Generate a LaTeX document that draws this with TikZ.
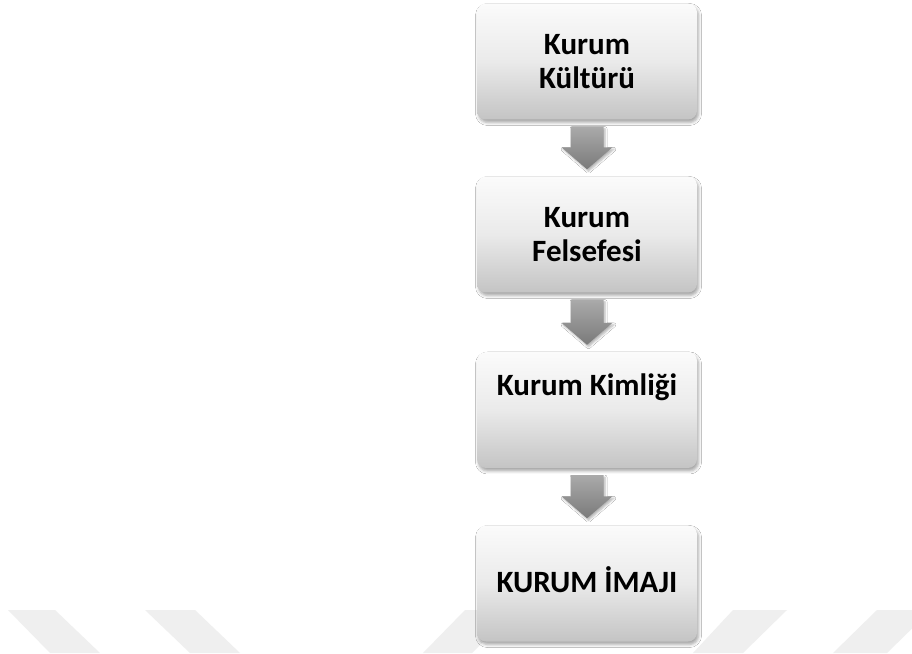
\documentclass[tikz,border=0pt]{standalone}
\usepackage{fontspec}
\setmainfont{Carlito}
\usetikzlibrary{shadows.blur,calc}
\definecolor{wmark}{HTML}{EFEFEF}
\definecolor{boxtop}{HTML}{FBFBFB}
\definecolor{boxmid}{HTML}{EAEAEA}
\definecolor{boxbot}{HTML}{C4C4C4}
\definecolor{arrtop}{HTML}{AAAAAA}
\definecolor{arrbot}{HTML}{7A7A7A}
\begin{document}
\begin{tikzpicture}[x=1pt,y=1pt,
  stagebox/.style={rectangle, rounded corners=9pt, minimum width=220pt,
    minimum height=116pt, inner sep=0pt,
    top color=boxtop, bottom color=boxbot, middle color=boxmid,
    blur shadow={shadow xshift=1.5pt, shadow yshift=-3pt,
      shadow blur radius=3pt, shadow opacity=35}},
  stagelabel/.style={font=\bfseries\fontsize{31}{34}\selectfont,
    align=center, text=black, inner sep=0pt},
  blockarrow/.style={top color=arrtop, bottom color=arrbot,
    blur shadow={shadow xshift=1.5pt, shadow yshift=-2pt,
      shadow blur radius=2pt, shadow opacity=30}},
  watermark/.style={fill=wmark}]
\useasboundingbox (0,0) rectangle (912,653);
\fill[white] (0,0) rectangle (912,653);

% faint chevron band along the bottom edge
\fill[watermark] (8,43) -- (55,43) -- (100,0) -- (50,0) -- cycle;
\fill[watermark] (145,43) -- (195,43) -- (240,0) -- (190,0) -- cycle;
\fill[watermark] (465,43) -- (515,43) -- (472,0) -- (423,0) -- cycle;
\fill[watermark] (733,43) -- (787,43) -- (743,0) -- (693,0) -- cycle;
\fill[watermark] (877,43) -- (931,43) -- (887,0) -- (833,0) -- cycle;

% stages
\node[stagebox] (b1) at (587,591.5) {};
\node[stagebox] (b2) at (587,418.5) {};
\node[stagebox] (b3) at (587,243) {};
\node[stagebox] (b4) at (587,69.5) {};

\node[stagelabel] (t1) at (b1.center) {Kurum\\Kültürü};
\node[stagelabel] (t2) at (b2.center) {Kurum\\Felsefesi};
\node[stagelabel, anchor=base] (t3) at (587,257) {Kurum Kimliği};
\node[stagelabel, anchor=base] (t4) at (587,61) {KURUM İMAJI};

% block arrows between consecutive stages
\foreach \u/\v in {b1/b2, b2/b3, b3/b4}{
  \path[blockarrow] let \p1=(\u.south), \p2=(\v.north) in
    (\x1-16.5pt,\y1-7pt) -- (\x1+16.5pt,\y1-7pt) -- (\x1+16.5pt,\y2+29pt)
    -- (\x1+25.5pt,\y2+29pt) -- (\x1,\y2+7pt) -- (\x1-25.5pt,\y2+29pt)
    -- (\x1-16.5pt,\y2+29pt) -- cycle;
}
\end{tikzpicture}
\end{document}
